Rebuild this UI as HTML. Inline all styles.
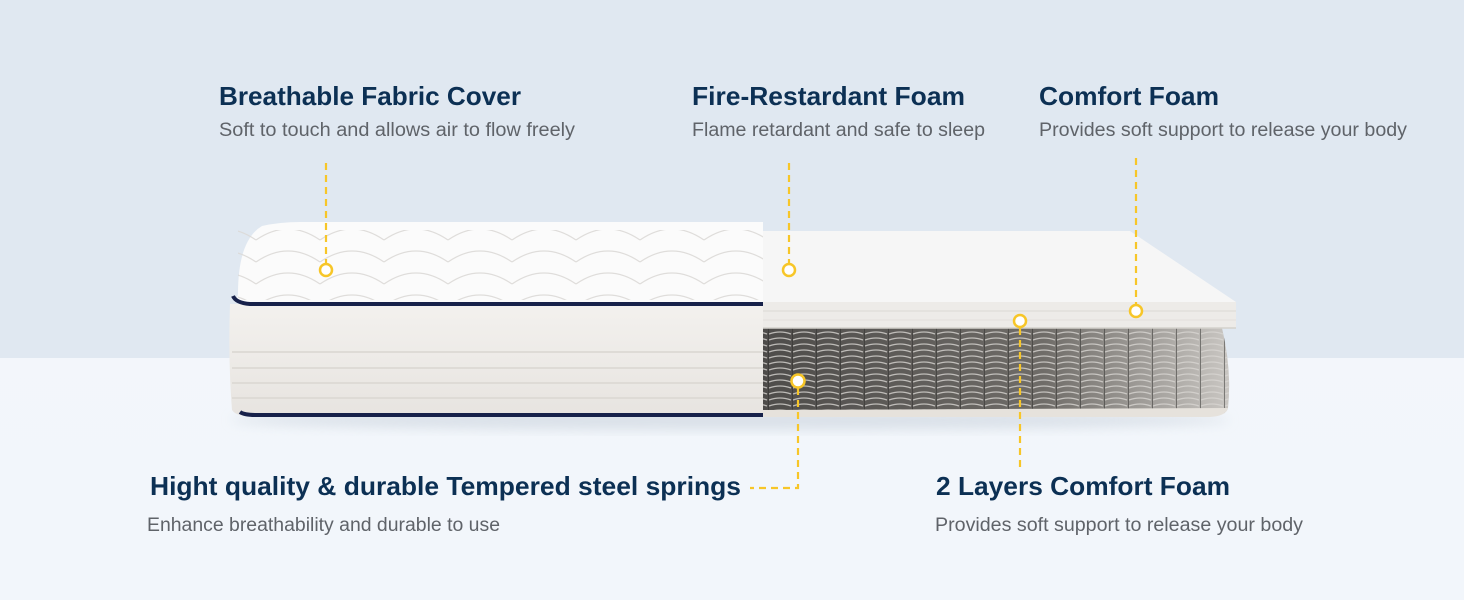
<!DOCTYPE html>
<html><head><meta charset="utf-8"><style>
html,body{margin:0;padding:0;width:1464px;height:600px;overflow:hidden}
svg{display:block}
.h{font-family:"Liberation Sans",sans-serif;font-weight:bold;font-size:26px;fill:#0c3054}
.s{font-family:"Liberation Sans",sans-serif;font-size:19px;fill:#5f6369}
.d{stroke:#f7c628;stroke-width:2.2;stroke-dasharray:7 5;fill:none}
.c{fill:#fff;stroke:#f7c628;stroke-width:2.5}
</style></head><body>
<svg width="1464" height="600" viewBox="0 0 1464 600" xmlns="http://www.w3.org/2000/svg">
<defs>
<linearGradient id="bg" x1="0" y1="0" x2="0" y2="1"><stop offset="0" stop-color="#f4f7fb"/><stop offset="1" stop-color="#f2f6fb"/></linearGradient>
<linearGradient id="side" x1="0" y1="0" x2="0" y2="1"><stop offset="0" stop-color="#f3f1ee"/><stop offset="1" stop-color="#e7e4e0"/></linearGradient>
<linearGradient id="spr" x1="0" y1="0" x2="1" y2="0"><stop offset="0" stop-color="#4e4c4a"/><stop offset="0.6" stop-color="#6f6c68"/><stop offset="1" stop-color="#c9c6c2"/></linearGradient>
<pattern id="coil" width="24" height="6" patternUnits="userSpaceOnUse">
<rect width="24" height="6" fill="none"/>
<path d="M1 4 Q12 0 23 4" stroke="#d8d6d2" stroke-width="1.2" fill="none" opacity="0.8"/>
<line x1="0.5" y1="0" x2="0.5" y2="6" stroke="#2e2d2b" stroke-width="1" opacity="0.5"/>
</pattern>
<pattern id="quilt" width="64" height="22" patternUnits="userSpaceOnUse">
<path d="M0 20 Q32 -2 64 20" stroke="#dcdad7" stroke-width="1.3" fill="none"/>
</pattern>
<filter id="sh" x="-10%" y="-10%" width="120%" height="140%"><feGaussianBlur stdDeviation="6"/></filter>
</defs>
<rect width="1464" height="600" fill="url(#bg)"/>
<rect width="1464" height="358" fill="#e0e8f1"/>
<ellipse cx="730" cy="420" rx="500" ry="10" fill="#c9d2dc" opacity="0.6" filter="url(#sh)"/>

<path d="M763 328 L1222 328 Q1232 370 1228 408 Q1226 416 1210 416 L763 416 Z" fill="url(#spr)"/>
<path d="M763 328 L1222 328 Q1232 370 1228 408 Q1226 416 1210 416 L763 416 Z" fill="url(#coil)"/>
<path d="M763 410 L1228 408 Q1226 416 1210 417 L763 417 Z" fill="#e6e2dc"/>

<polygon points="763,231 1130,231 1236,302 763,302" fill="#f6f6f6"/>
<rect x="763" y="302" width="473" height="26" fill="#edebe8"/>
<line x1="763" y1="311" x2="1236" y2="311" stroke="#dcd9d5" stroke-width="1"/>
<line x1="763" y1="320" x2="1236" y2="320" stroke="#e2dfdb" stroke-width="1"/>
<line x1="763" y1="328" x2="1236" y2="328" stroke="#d4d1cc" stroke-width="1.5"/>

<path d="M238 294 Q238 240 262 226 Q280 222 300 222 L763 222 L763 302 L236 302 Z" fill="#fbfbfb"/>
<rect x="238" y="230" width="525" height="70" fill="url(#quilt)" opacity="0.9"/>
<path d="M230 304 Q228 360 232 410 Q236 416 248 416 L763 416 L763 304 Z" fill="url(#side)"/>
<line x1="232" y1="352" x2="763" y2="352" stroke="#dedbd6" stroke-width="2"/>
<line x1="232" y1="368" x2="763" y2="368" stroke="#dedbd6" stroke-width="2"/>
<line x1="232" y1="383" x2="763" y2="383" stroke="#dedbd6" stroke-width="2"/>
<line x1="232" y1="398" x2="763" y2="398" stroke="#dedbd6" stroke-width="2"/>
<path d="M233 296 Q236 303 250 304 L763 304" stroke="#17214a" stroke-width="4" fill="none"/>
<path d="M240 412 Q244 415 256 415 L763 415" stroke="#17214a" stroke-width="4" fill="none"/>

<line class="d" x1="326" y1="163" x2="326" y2="264"/>
<line class="d" x1="789" y1="163" x2="789" y2="264"/>
<line class="d" x1="1136" y1="158" x2="1136" y2="305"/>
<line class="d" x1="1020" y1="328" x2="1020" y2="470"/>
<polyline class="d" points="798,388 798,488 750,488"/>
<circle class="c" cx="326" cy="270" r="6"/>
<circle class="c" cx="789" cy="270" r="6"/>
<circle class="c" cx="1136" cy="311" r="6"/>
<circle class="c" cx="1020" cy="321" r="6"/>
<circle class="c" cx="798" cy="381" r="6.5"/>

<text class="h" x="219" y="105" textLength="302" lengthAdjust="spacingAndGlyphs">Breathable Fabric Cover</text>
<text class="s" x="219" y="136" textLength="356" lengthAdjust="spacingAndGlyphs">Soft to touch and allows air to flow freely</text>
<text class="h" x="692" y="105" textLength="273" lengthAdjust="spacingAndGlyphs">Fire-Restardant Foam</text>
<text class="s" x="692" y="136" textLength="293" lengthAdjust="spacingAndGlyphs">Flame retardant and safe to sleep</text>
<text class="h" x="1039" y="105" textLength="180" lengthAdjust="spacingAndGlyphs">Comfort Foam</text>
<text class="s" x="1039" y="136" textLength="368" lengthAdjust="spacingAndGlyphs">Provides soft support to release your body</text>
<text class="h" x="150" y="495" textLength="591" lengthAdjust="spacingAndGlyphs">Hight quality &amp; durable Tempered steel springs</text>
<text class="s" x="147" y="531" textLength="353" lengthAdjust="spacingAndGlyphs">Enhance breathability and durable to use</text>
<text class="h" x="936" y="495" textLength="294" lengthAdjust="spacingAndGlyphs">2 Layers Comfort Foam</text>
<text class="s" x="935" y="531" textLength="368" lengthAdjust="spacingAndGlyphs">Provides soft support to release your body</text>
</svg>
</body></html>
